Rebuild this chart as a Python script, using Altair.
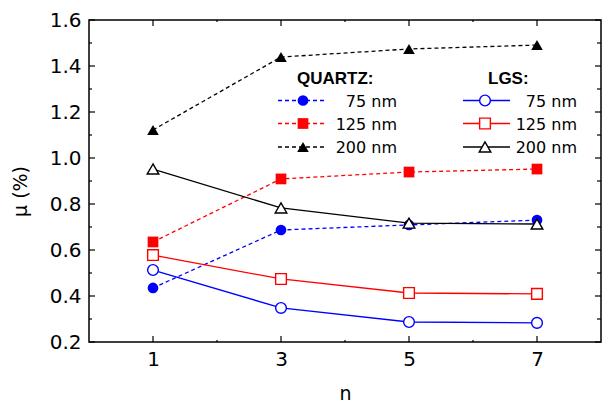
import altair as alt
import pandas as pd

# ---------------- data ----------------
n_vals = [1, 3, 5, 7]
quartz_75 = [0.435, 0.687, 0.709, 0.730]
quartz_125 = [0.635, 0.909, 0.939, 0.952]
quartz_200 = [1.122, 1.439, 1.474, 1.491]
lgs_75 = [0.513, 0.348, 0.287, 0.283]
lgs_125 = [0.578, 0.474, 0.413, 0.409]
lgs_200 = [0.952, 0.783, 0.717, 0.713]

x_major = [1, 3, 5, 7]
x_minor = [2, 4, 6]
y_major = [0.2, 0.4, 0.6, 0.8, 1.0, 1.2, 1.4, 1.6]
y_minor = [0.3, 0.5, 0.7, 0.9, 1.1, 1.3, 1.5]

labels = ["75 nm", "125 nm", "200 nm"]

FONT = "DejaVu Sans"
BFONT = "Liberation Sans"
W, H = 512, 322

xs = alt.Scale(domain=[0, 8], nice=False, zero=False)
ys = alt.Scale(domain=[0.2, 1.6], nice=False, zero=False)

series = [
    (quartz_75, "#0000ff", True, "circle", True),
    (quartz_125, "#ff0000", True, "square", True),
    (quartz_200, "#000000", True, "triangle-up", True),
    (lgs_75, "#0000ff", False, "circle", False),
    (lgs_125, "#ff0000", False, "square", False),
    (lgs_200, "#000000", False, "triangle-up", False),
]

layers = []

# axes carrier (labels and titles only)
axis_df = pd.DataFrame({"n": n_vals, "mu": quartz_75})
base_axes = alt.Chart(axis_df).mark_point(opacity=0).encode(
    x=alt.X("n:Q", scale=xs,
            axis=alt.Axis(values=x_major, format="d",
                          labelFontSize=20, labelPadding=7, labelFont=FONT, labelColor="black",
                          title="n", titleFont=FONT, titleFontSize=19, titleFontWeight="normal",
                          titleColor="black", titleY=57, titleBaseline="alphabetic")),
    y=alt.Y("mu:Q", scale=ys,
            axis=alt.Axis(values=y_major, format=".1f",
                          labelFontSize=20, labelPadding=8, labelFont=FONT, labelColor="black",
                          title="μ (%)", titleFont=FONT, titleFontSize=19, titleFontWeight="normal",
                          titleColor="black", titleX=-69, titleY=171, titleAngle=-90,
                          titleAlign="center", titleBaseline="middle")),
)
layers.append(base_axes)

# inward ticks
def xticks(vals, y0, y1):
    return alt.Chart(pd.DataFrame({"n": vals})).mark_rule(color="black", strokeWidth=1.2).encode(
        x=alt.X("n:Q", scale=xs), y=alt.value(y0), y2=alt.value(y1))

def yticks(vals, x0, x1):
    return alt.Chart(pd.DataFrame({"mu": vals})).mark_rule(color="black", strokeWidth=1.2).encode(
        y=alt.Y("mu:Q", scale=ys), x=alt.value(x0), x2=alt.value(x1))

layers += [
    xticks(x_major, H, H - 6), xticks(x_minor, H, H - 2),
    xticks(x_major, 0, 6), xticks(x_minor, 0, 2),
    yticks(y_major, 0, 6), yticks(y_minor, 0, 3),
    yticks(y_major, W, W - 6), yticks(y_minor, W, W - 4),
]

# data series
for vals, color, dashed, shape, filled in series:
    df = pd.DataFrame({"n": n_vals, "mu": vals})
    line_kw = dict(color=color, strokeWidth=1.3)
    if dashed:
        line_kw["strokeDash"] = [4, 3]
    line = alt.Chart(df).mark_line(**line_kw).encode(
        x=alt.X("n:Q", scale=xs), y=alt.Y("mu:Q", scale=ys))
    sz = 115 if shape != "triangle-up" else 135
    if filled:
        pt = alt.Chart(df).mark_point(shape=shape, filled=True, color=color, opacity=1,
                                      size=sz).encode(
            x=alt.X("n:Q", scale=xs), y=alt.Y("mu:Q", scale=ys))
    else:
        pt = alt.Chart(df).mark_point(shape=shape, filled=False, stroke=color, fill="white",
                                      fillOpacity=1, opacity=1, strokeWidth=1.4,
                                      size=sz).encode(
            x=alt.X("n:Q", scale=xs), y=alt.Y("mu:Q", scale=ys))
    layers += [line, pt]

# legend (manual, inside plot)
one = pd.DataFrame({"a": [0]})
def txt(s, x, y, align="left", bold=False, font=FONT, size=16):
    return alt.Chart(one).mark_text(text=s, align=align, baseline="middle", font=font,
                                    fontSize=size, fontWeight="bold" if bold else "normal",
                                    color="black").encode(x=alt.value(x), y=alt.value(y))

layers.append(txt("QUARTZ:", 208, 59, bold=True, font=BFONT, size=17))
layers.append(txt("LGS:", 399, 59, bold=True, font=BFONT, size=17))
row_y = [80.5, 103.5, 127]
for i, (vals, color, dashed, shape, filled) in enumerate(series):
    col = 0 if i < 3 else 1
    r = i % 3
    y = row_y[r]
    x0, x1, xm, xt = (189, 236, 214, 308) if col == 0 else (374, 421, 396, 488)
    rule_kw = dict(color=color, strokeWidth=1.3)
    if dashed:
        rule_kw["strokeDash"] = [4, 3]
    layers.append(alt.Chart(one).mark_rule(**rule_kw).encode(
        x=alt.value(x0), x2=alt.value(x1), y=alt.value(y)))
    sz = 115 if shape != "triangle-up" else 135
    if filled:
        layers.append(alt.Chart(one).mark_point(shape=shape, filled=True, color=color, opacity=1,
                                                size=sz).encode(x=alt.value(xm), y=alt.value(y)))
    else:
        layers.append(alt.Chart(one).mark_point(shape=shape, filled=False, stroke=color,
                                                fill="white", fillOpacity=1, opacity=1,
                                                strokeWidth=1.4, size=sz).encode(
            x=alt.value(xm), y=alt.value(y)))
    layers.append(txt(labels[r], xt, y + 1, align="right"))

chart = alt.layer(*layers).properties(
    width=W, height=H,
    background="white",
    autosize=alt.AutoSizeParams(type="none"),
    padding={"left": 89, "top": 20, "right": 1, "bottom": 61},
).configure_axis(
    ticks=False, domain=False, grid=False
).configure_view(stroke="black", strokeWidth=1.5)

chart.save("out.html", embed_options={"renderer": "svg", "actions": False})
